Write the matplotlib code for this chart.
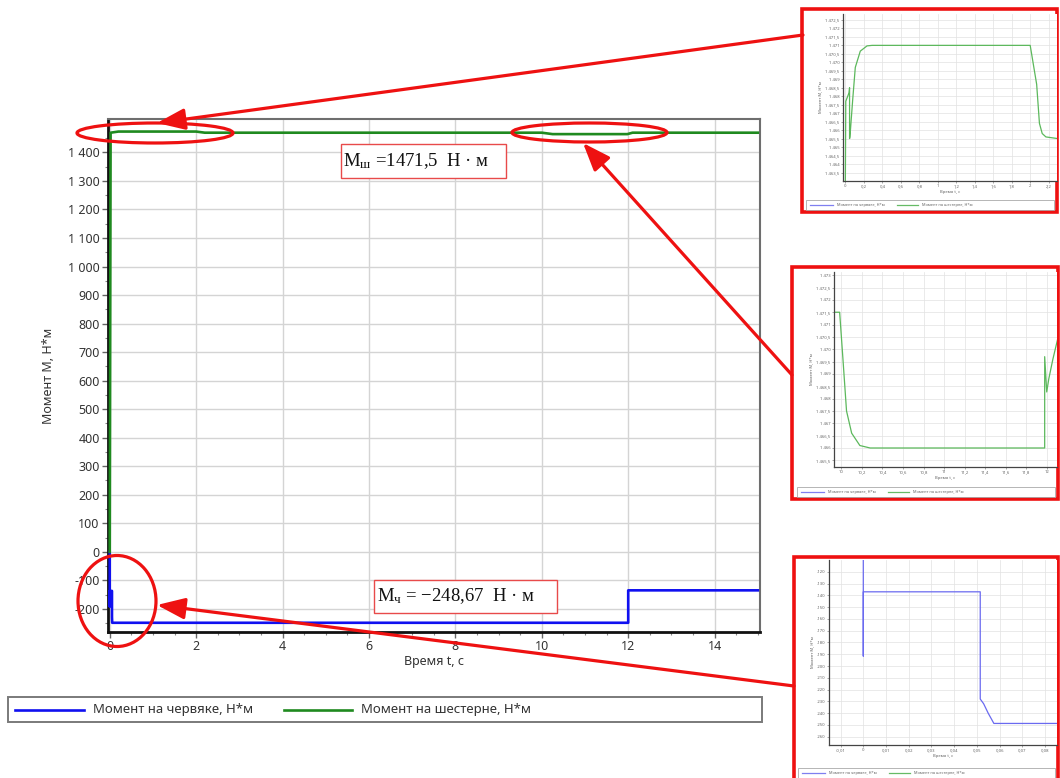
import matplotlib
matplotlib.use('Agg')
import matplotlib.pyplot as plt
from matplotlib.patches import Rectangle, Ellipse, FancyArrowPatch
from matplotlib.lines import Line2D
from matplotlib.ticker import MultipleLocator, FuncFormatter, FixedLocator

W, H = 1060, 778
plt.rcParams['font.family'] = ['Noto Sans', 'DejaVu Sans']
plt.rcParams['mathtext.fontset'] = 'custom'
plt.rcParams['mathtext.rm'] = 'Liberation Serif'
plt.rcParams['mathtext.it'] = 'Liberation Serif:italic'

# ---------------- data ----------------
worm_label = "Момент на червяке, Н*м"
shaft_label = "Момент на шестерне, Н*м"

# main chart
t_worm = [0, 0, 0, 0.052, 0.052, 0.057, 12.0, 12.0, 15.0]
m_worm = [0, -191, -137, -137, -228, -248.67, -248.67, -135, -135]
t_shaft = [0, 0.02, 0.2, 2.0, 2.2, 10.0, 10.25, 11.98, 12.1, 15.0]
m_shaft = [0, 1469, 1473, 1473, 1469, 1469, 1464, 1464, 1469, 1469]
main_xticks = [0, 2, 4, 6, 8, 10, 12, 14]
main_yticks = [-200, -100, 0, 100, 200, 300, 400, 500, 600, 700, 800, 900,
               1000, 1100, 1200, 1300, 1400]

# inset 1 (start-up, shaft torque)
ins1_t = [0.0, 0.005, 0.04, 0.046, 0.046, 0.05, 0.08, 0.108, 0.162, 0.235, 0.29,
          2.0, 2.07, 2.1, 2.13, 2.17, 2.3]
ins1_m = [1462.5, 1467.7, 1468.2, 1468.5, 1465.5, 1465.6, 1467.8, 1469.7, 1470.66,
          1470.97, 1471.0, 1471.0, 1468.7, 1466.4, 1465.8, 1465.6, 1465.5]
ins1_xticks = [0, 0.2, 0.4, 0.6, 0.8, 1.0, 1.2, 1.4, 1.6, 1.8, 2.0, 2.2]
ins1_yticks = [1463.5, 1464, 1464.5, 1465, 1465.5, 1466, 1466.5, 1467, 1467.5, 1468,
               1468.5, 1469, 1469.5, 1470, 1470.5, 1471, 1471.5, 1472, 1472.5]

# inset 2 (10 s .. 12 s, shaft torque)
ins2_t = [9.93, 9.983, 10.016, 10.05, 10.1, 10.18, 10.28, 11.98, 11.98, 12.0,
          12.02, 12.06, 12.1, 12.15]
ins2_m = [1471.5, 1471.5, 1469.55, 1467.5, 1466.6, 1466.1, 1466.0, 1466.0, 1469.7,
          1468.27, 1468.8, 1469.6, 1470.3, 1471.2]
ins2_xticks = [10, 10.2, 10.4, 10.6, 10.8, 11, 11.2, 11.4, 11.6, 11.8, 12]
ins2_yticks = [1465.5, 1466, 1466.5, 1467, 1467.5, 1468, 1468.5, 1469, 1469.5,
               1470, 1470.5, 1471, 1471.5, 1472, 1472.5, 1473]

# inset 3 (start-up, worm torque)
ins3_t = [0, 0, 0, 0.0515, 0.0515, 0.053, 0.055, 0.0575, 0.09]
ins3_m = [-100, -191.5, -137, -137, -228, -232, -240, -248.7, -248.7]
ins3_xticks = [-0.01, 0, 0.01, 0.02, 0.03, 0.04, 0.05, 0.06, 0.07, 0.08]
ins3_yticks = [-260, -250, -240, -230, -220, -210, -200, -190, -180, -170, -160,
               -150, -140, -130, -120]

# -------------- helpers ---------------
def fx(x):
    return x / W

def fy(y):
    return 1 - y / H

def box(l, t, r, b):
    return [fx(l), fy(b), (r - l) / W, (b - t) / H]

def ru_fmt(v, pos=None):
    s = ('%.3f' % v).rstrip('0').rstrip('.')
    neg = s.startswith('-')
    if neg:
        s = s[1:]
    if '.' in s:
        ip, dp = s.split('.')
    else:
        ip, dp = s, ''
    if len(ip) > 3:
        ip = ip[:-3] + ' ' + ip[-3:]
    out = ip + (',' + dp if dp else '')
    if out == '0':
        return '0'
    return ('-' if neg else '') + out

fig = plt.figure(figsize=(W / 100, H / 100), dpi=100)
fig.patch.set_facecolor('white')

BLUE = '#1010f0'
GREEN = '#1f8a1f'
RED = '#ee1111'

# -------------- main chart --------------
ax = fig.add_axes(box(108, 119, 760, 632))
ax.plot(t_worm, m_worm, color=BLUE, lw=1.9, label=worm_label, zorder=3)
ax.plot(t_shaft, m_shaft, color=GREEN, lw=1.9, label=shaft_label, zorder=3)
ax.set_xlim(-0.04, 15.05)
ax.set_ylim(-281, 1517)
ax.xaxis.set_major_locator(FixedLocator(main_xticks))
ax.yaxis.set_major_locator(FixedLocator(main_yticks))
ax.xaxis.set_minor_locator(MultipleLocator(0.5))
ax.yaxis.set_minor_locator(MultipleLocator(50))
ax.yaxis.set_major_formatter(FuncFormatter(ru_fmt))
ax.grid(True, which='major', color='#d4d4d4', lw=1.0, zorder=0)
ax.tick_params(which='major', length=4, width=1, color='#666', labelsize=9,
               labelcolor='#333', pad=2)
ax.tick_params(which='minor', length=2, width=0.8, color='#888')
for s in ['top', 'right']:
    ax.spines[s].set_color('#6e6e6e')
    ax.spines[s].set_linewidth(1.5)
for s in ['left', 'bottom']:
    ax.spines[s].set_color('#111')
    ax.spines[s].set_linewidth(2.0)
ax.set_xlabel('Время t, с', fontsize=9, color='#333', labelpad=1)
ax.set_ylabel('Момент М, Н*м', fontsize=9, color='#333', labelpad=4)
ax.yaxis.set_label_coords(-0.082, 0.5)

# main legend (drawn manually as a wide framed strip)
fig.patches.append(Rectangle((fx(8), fy(722)), (762 - 8) / W, 25 / H,
                             transform=fig.transFigure, fill=False,
                             edgecolor='#7a7a7a', lw=1.4))
fig.lines.append(Line2D([fx(15), fx(84)], [fy(709.5)] * 2, color=BLUE, lw=1.9,
                        transform=fig.transFigure))
fig.text(fx(93), fy(709.5), worm_label, fontsize=9.5, color='#333', va='center')
fig.lines.append(Line2D([fx(284), fx(352)], [fy(709.5)] * 2, color=GREEN, lw=1.9,
                        transform=fig.transFigure))
fig.text(fx(361), fy(709.5), shaft_label, fontsize=9.5, color='#333', va='center')

# value boxes
fig.patches.append(Rectangle((fx(341), fy(178)), 165 / W, 34 / H,
                             transform=fig.transFigure, facecolor='white',
                             edgecolor='#e84a4a', lw=1.0, zorder=5))
fig.text(fx(343), fy(166), r'$\mathrm{М}_{\mathrm{ш}}$ =1471,5  Н · м',
         fontsize=13.5, family='Liberation Serif', color='#111', zorder=6)
fig.patches.append(Rectangle((fx(374), fy(613)), 183 / W, 33 / H,
                             transform=fig.transFigure, facecolor='white',
                             edgecolor='#e84a4a', lw=1.0, zorder=5))
fig.text(fx(377), fy(601), r'$\mathrm{М}_{\mathrm{ч}}$ = −248,67  Н · м',
         fontsize=13.5, family='Liberation Serif', color='#111', zorder=6)

# -------------- insets --------------
def make_inset(frame, axbox, t, m, color, xticks, yticks, xlim, ylim, legbox):
    l, tp, r, b = frame
    fig.patches.append(Rectangle((fx(l), fy(b)), (r - l) / W, (b - tp) / H,
                                 transform=fig.transFigure, facecolor='white',
                                 edgecolor=RED, lw=2.6, zorder=1))
    ia = fig.add_axes(box(*axbox))
    ia.set_zorder(2)
    ia.plot(t, m, color=color, lw=0.9)
    ia.set_xlim(*xlim)
    ia.set_ylim(*ylim)
    ia.xaxis.set_major_locator(FixedLocator(xticks))
    ia.yaxis.set_major_locator(FixedLocator(yticks))
    ia.xaxis.set_major_formatter(FuncFormatter(ru_fmt))
    ia.yaxis.set_major_formatter(FuncFormatter(ru_fmt))
    ia.grid(True, color='#e2e2e2', lw=0.5)
    ia.tick_params(length=1.5, width=0.4, labelsize=3.0, labelcolor='#666',
                   color='#666', pad=1)
    for s in ['top', 'right']:
        ia.spines[s].set_visible(False)
    for s in ['left', 'bottom']:
        ia.spines[s].set_color('#444')
        ia.spines[s].set_linewidth(0.9)
    ia.set_ylabel('Момент М, Н*м', fontsize=3.0, color='#666', labelpad=2)
    ia.set_xlabel('Время t, с', fontsize=3.0, color='#666', labelpad=1)
    ll, lt, lr, lb = legbox
    fig.patches.append(Rectangle((fx(ll), fy(lb)), (lr - ll) / W, (lb - lt) / H,
                                 transform=fig.transFigure, fill=False,
                                 edgecolor='#aaa', lw=0.6, zorder=3))
    yc = (lt + lb) / 2
    fig.lines.append(Line2D([fx(ll + 4), fx(ll + 27)], [fy(yc)] * 2, color='#7f7ff0',
                            lw=0.9, transform=fig.transFigure, zorder=3))
    fig.text(fx(ll + 31), fy(yc), worm_label, fontsize=2.8, color='#666',
             va='center', zorder=3)
    fig.lines.append(Line2D([fx(ll + 91), fx(ll + 112)], [fy(yc)] * 2,
                            color='#66bb66', lw=0.9, transform=fig.transFigure,
                            zorder=3))
    fig.text(fx(ll + 116), fy(yc), shaft_label, fontsize=2.8, color='#666',
             va='center', zorder=3)
    return ia

make_inset((802, 9, 1057, 212), (843, 14, 1057, 181), ins1_t, ins1_m, '#5cb85c',
           ins1_xticks, ins1_yticks, (-0.025, 2.29), (1463.0, 1472.85),
           (806, 200, 1054, 210))
make_inset((792, 267, 1058, 499), (834, 272, 1057, 467), ins2_t, ins2_m, '#5cb85c',
           ins2_xticks, ins2_yticks, (9.928, 12.1), (1465.23, 1473.13),
           (797, 487, 1055, 497))
make_inset((794, 557, 1058, 782), (829, 560, 1057, 745), ins3_t, ins3_m, '#6a6af0',
           ins3_xticks, ins3_yticks, (-0.0151, 0.0853), (-267, -110),
           (798, 768, 1055, 778))

# -------------- ellipses and arrows --------------
for (cx, cy, w, h) in [(155, 133, 156, 20), (589.5, 132.5, 155, 19),
                       (117, 601, 78, 91)]:
    fig.patches.append(Ellipse((fx(cx), fy(cy)), w / W, h / H,
                               transform=fig.transFigure, fill=False,
                               edgecolor=RED, lw=2.3, zorder=7))

for (x0, y0, x1, y1) in [(803, 35, 157, 123), (792, 375, 583, 143),
                         (794, 686, 157, 605)]:
    fig.patches.append(FancyArrowPatch((fx(x0), fy(y0)), (fx(x1), fy(y1)),
                                       transform=fig.transFigure,
                                       arrowstyle='-|>,head_length=1.7,head_width=0.65',
                                       mutation_scale=10, color=RED, lw=2.3,
                                       shrinkA=0, shrinkB=0, zorder=8))

fig.savefig('out.png', dpi=100, facecolor='white')
